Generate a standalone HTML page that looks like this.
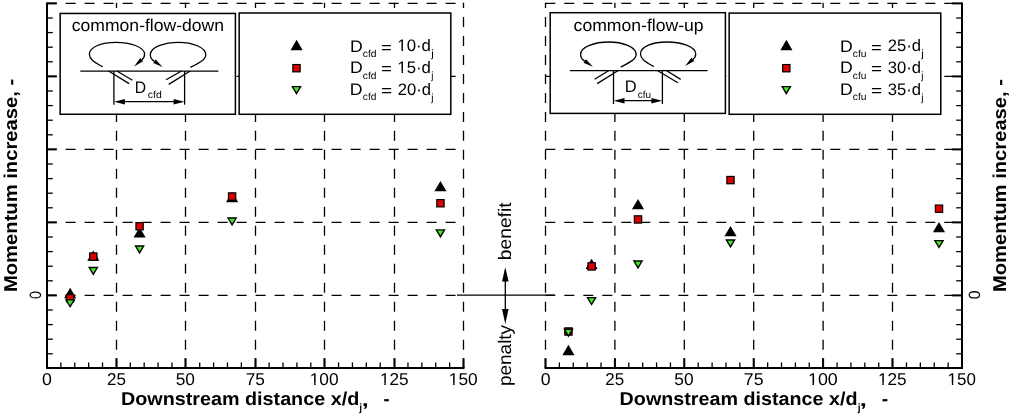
<!DOCTYPE html>
<html><head><meta charset="utf-8"><style>
html,body{margin:0;padding:0;background:#fff;}
svg{display:block;text-rendering:geometricPrecision;}
text{font-family:"Liberation Sans", sans-serif;fill:#000;}
</style></head><body>
<svg width="1011" height="414" viewBox="0 0 1011 414">
<rect width="1011" height="414" fill="#fff"/>
<path d="M46.60 295.40H463.50" stroke="#000" stroke-width="1.3" stroke-dasharray="10 9" fill="none"/>
<path d="M46.60 222.40H463.50" stroke="#000" stroke-width="1.3" stroke-dasharray="10 9" fill="none"/>
<path d="M46.60 149.40H463.50" stroke="#000" stroke-width="1.3" stroke-dasharray="10 9" fill="none"/>
<path d="M46.60 76.40H463.50" stroke="#000" stroke-width="1.3" stroke-dasharray="10 9" fill="none"/>
<path d="M46.60 3.40H463.50" stroke="#000" stroke-width="1.3" stroke-dasharray="10 9" fill="none"/>
<path d="M116.50 2.80V368.00" stroke="#000" stroke-width="1.3" stroke-dasharray="10.0 8.98" stroke-dashoffset="4.80" fill="none"/>
<path d="M185.50 2.80V368.00" stroke="#000" stroke-width="1.3" stroke-dasharray="10.0 8.98" stroke-dashoffset="4.80" fill="none"/>
<path d="M255.50 2.80V368.00" stroke="#000" stroke-width="1.3" stroke-dasharray="10.0 8.98" stroke-dashoffset="4.80" fill="none"/>
<path d="M324.50 2.80V368.00" stroke="#000" stroke-width="1.3" stroke-dasharray="10.0 8.98" stroke-dashoffset="4.80" fill="none"/>
<path d="M394.50 2.80V368.00" stroke="#000" stroke-width="1.3" stroke-dasharray="10.0 8.98" stroke-dashoffset="4.80" fill="none"/>
<path d="M463.50 2.80V368.00" stroke="#000" stroke-width="1.3" stroke-dasharray="10.0 8.98" stroke-dashoffset="4.80" fill="none"/>
<line x1="47.00" y1="2.40" x2="47.00" y2="369.00" stroke="#000" stroke-width="2.0"/>
<line x1="46.00" y1="368.00" x2="464.50" y2="368.00" stroke="#000" stroke-width="2.0"/>
<line x1="47.00" y1="368.00" x2="47.00" y2="358.20" stroke="#000" stroke-width="2.0"/>
<line x1="60.88" y1="368.00" x2="60.88" y2="362.40" stroke="#000" stroke-width="1.3"/>
<line x1="74.77" y1="368.00" x2="74.77" y2="362.40" stroke="#000" stroke-width="1.3"/>
<line x1="88.65" y1="368.00" x2="88.65" y2="362.40" stroke="#000" stroke-width="1.3"/>
<line x1="102.53" y1="368.00" x2="102.53" y2="362.40" stroke="#000" stroke-width="1.3"/>
<line x1="116.50" y1="368.00" x2="116.50" y2="358.20" stroke="#000" stroke-width="2.0"/>
<line x1="130.30" y1="368.00" x2="130.30" y2="362.40" stroke="#000" stroke-width="1.3"/>
<line x1="144.18" y1="368.00" x2="144.18" y2="362.40" stroke="#000" stroke-width="1.3"/>
<line x1="158.07" y1="368.00" x2="158.07" y2="362.40" stroke="#000" stroke-width="1.3"/>
<line x1="171.95" y1="368.00" x2="171.95" y2="362.40" stroke="#000" stroke-width="1.3"/>
<line x1="185.50" y1="368.00" x2="185.50" y2="358.20" stroke="#000" stroke-width="2.0"/>
<line x1="199.72" y1="368.00" x2="199.72" y2="362.40" stroke="#000" stroke-width="1.3"/>
<line x1="213.60" y1="368.00" x2="213.60" y2="362.40" stroke="#000" stroke-width="1.3"/>
<line x1="227.48" y1="368.00" x2="227.48" y2="362.40" stroke="#000" stroke-width="1.3"/>
<line x1="241.37" y1="368.00" x2="241.37" y2="362.40" stroke="#000" stroke-width="1.3"/>
<line x1="255.50" y1="368.00" x2="255.50" y2="358.20" stroke="#000" stroke-width="2.0"/>
<line x1="269.13" y1="368.00" x2="269.13" y2="362.40" stroke="#000" stroke-width="1.3"/>
<line x1="283.02" y1="368.00" x2="283.02" y2="362.40" stroke="#000" stroke-width="1.3"/>
<line x1="296.90" y1="368.00" x2="296.90" y2="362.40" stroke="#000" stroke-width="1.3"/>
<line x1="310.78" y1="368.00" x2="310.78" y2="362.40" stroke="#000" stroke-width="1.3"/>
<line x1="324.50" y1="368.00" x2="324.50" y2="358.20" stroke="#000" stroke-width="2.0"/>
<line x1="338.55" y1="368.00" x2="338.55" y2="362.40" stroke="#000" stroke-width="1.3"/>
<line x1="352.43" y1="368.00" x2="352.43" y2="362.40" stroke="#000" stroke-width="1.3"/>
<line x1="366.32" y1="368.00" x2="366.32" y2="362.40" stroke="#000" stroke-width="1.3"/>
<line x1="380.20" y1="368.00" x2="380.20" y2="362.40" stroke="#000" stroke-width="1.3"/>
<line x1="394.50" y1="368.00" x2="394.50" y2="358.20" stroke="#000" stroke-width="2.0"/>
<line x1="407.97" y1="368.00" x2="407.97" y2="362.40" stroke="#000" stroke-width="1.3"/>
<line x1="421.85" y1="368.00" x2="421.85" y2="362.40" stroke="#000" stroke-width="1.3"/>
<line x1="435.73" y1="368.00" x2="435.73" y2="362.40" stroke="#000" stroke-width="1.3"/>
<line x1="449.62" y1="368.00" x2="449.62" y2="362.40" stroke="#000" stroke-width="1.3"/>
<line x1="463.50" y1="368.00" x2="463.50" y2="358.20" stroke="#000" stroke-width="2.0"/>
<line x1="47.00" y1="353.80" x2="52.80" y2="353.80" stroke="#000" stroke-width="1.3"/>
<line x1="47.00" y1="339.20" x2="52.80" y2="339.20" stroke="#000" stroke-width="1.3"/>
<line x1="47.00" y1="324.60" x2="52.80" y2="324.60" stroke="#000" stroke-width="1.3"/>
<line x1="47.00" y1="310.00" x2="52.80" y2="310.00" stroke="#000" stroke-width="1.3"/>
<line x1="47.00" y1="295.40" x2="56.80" y2="295.40" stroke="#000" stroke-width="2.0"/>
<line x1="47.00" y1="280.80" x2="52.80" y2="280.80" stroke="#000" stroke-width="1.3"/>
<line x1="47.00" y1="266.20" x2="52.80" y2="266.20" stroke="#000" stroke-width="1.3"/>
<line x1="47.00" y1="251.60" x2="52.80" y2="251.60" stroke="#000" stroke-width="1.3"/>
<line x1="47.00" y1="237.00" x2="52.80" y2="237.00" stroke="#000" stroke-width="1.3"/>
<line x1="47.00" y1="222.40" x2="56.80" y2="222.40" stroke="#000" stroke-width="2.0"/>
<line x1="47.00" y1="207.80" x2="52.80" y2="207.80" stroke="#000" stroke-width="1.3"/>
<line x1="47.00" y1="193.20" x2="52.80" y2="193.20" stroke="#000" stroke-width="1.3"/>
<line x1="47.00" y1="178.60" x2="52.80" y2="178.60" stroke="#000" stroke-width="1.3"/>
<line x1="47.00" y1="164.00" x2="52.80" y2="164.00" stroke="#000" stroke-width="1.3"/>
<line x1="47.00" y1="149.40" x2="56.80" y2="149.40" stroke="#000" stroke-width="2.0"/>
<line x1="47.00" y1="134.80" x2="52.80" y2="134.80" stroke="#000" stroke-width="1.3"/>
<line x1="47.00" y1="120.20" x2="52.80" y2="120.20" stroke="#000" stroke-width="1.3"/>
<line x1="47.00" y1="105.60" x2="52.80" y2="105.60" stroke="#000" stroke-width="1.3"/>
<line x1="47.00" y1="91.00" x2="52.80" y2="91.00" stroke="#000" stroke-width="1.3"/>
<line x1="47.00" y1="76.40" x2="56.80" y2="76.40" stroke="#000" stroke-width="2.0"/>
<line x1="47.00" y1="61.80" x2="52.80" y2="61.80" stroke="#000" stroke-width="1.3"/>
<line x1="47.00" y1="47.20" x2="52.80" y2="47.20" stroke="#000" stroke-width="1.3"/>
<line x1="47.00" y1="32.60" x2="52.80" y2="32.60" stroke="#000" stroke-width="1.3"/>
<line x1="47.00" y1="18.00" x2="52.80" y2="18.00" stroke="#000" stroke-width="1.3"/>
<line x1="47.00" y1="3.40" x2="56.80" y2="3.40" stroke="#000" stroke-width="2.0"/>
<path d="M545.30 295.40H962.00" stroke="#000" stroke-width="1.3" stroke-dasharray="10 9" fill="none"/>
<path d="M545.30 222.40H962.00" stroke="#000" stroke-width="1.3" stroke-dasharray="10 9" fill="none"/>
<path d="M545.30 149.40H962.00" stroke="#000" stroke-width="1.3" stroke-dasharray="10 9" fill="none"/>
<path d="M545.30 76.40H962.00" stroke="#000" stroke-width="1.3" stroke-dasharray="10 9" fill="none"/>
<path d="M545.30 3.40H962.00" stroke="#000" stroke-width="1.3" stroke-dasharray="10 9" fill="none"/>
<path d="M545.50 2.80V368.00" stroke="#000" stroke-width="1.3" stroke-dasharray="10.0 8.98" stroke-dashoffset="4.80" fill="none"/>
<path d="M614.90 2.80V368.00" stroke="#000" stroke-width="1.3" stroke-dasharray="10.0 8.98" stroke-dashoffset="4.80" fill="none"/>
<path d="M684.30 2.80V368.00" stroke="#000" stroke-width="1.3" stroke-dasharray="10.0 8.98" stroke-dashoffset="4.80" fill="none"/>
<path d="M753.70 2.80V368.00" stroke="#000" stroke-width="1.3" stroke-dasharray="10.0 8.98" stroke-dashoffset="4.80" fill="none"/>
<path d="M823.10 2.80V368.00" stroke="#000" stroke-width="1.3" stroke-dasharray="10.0 8.98" stroke-dashoffset="4.80" fill="none"/>
<path d="M892.50 2.80V368.00" stroke="#000" stroke-width="1.3" stroke-dasharray="10.0 8.98" stroke-dashoffset="4.80" fill="none"/>
<line x1="962.00" y1="2.40" x2="962.00" y2="369.00" stroke="#000" stroke-width="2.0"/>
<line x1="544.50" y1="368.00" x2="963.00" y2="368.00" stroke="#000" stroke-width="2.0"/>
<line x1="545.50" y1="368.00" x2="545.50" y2="358.20" stroke="#000" stroke-width="2.0"/>
<line x1="559.38" y1="368.00" x2="559.38" y2="362.40" stroke="#000" stroke-width="1.3"/>
<line x1="573.27" y1="368.00" x2="573.27" y2="362.40" stroke="#000" stroke-width="1.3"/>
<line x1="587.15" y1="368.00" x2="587.15" y2="362.40" stroke="#000" stroke-width="1.3"/>
<line x1="601.03" y1="368.00" x2="601.03" y2="362.40" stroke="#000" stroke-width="1.3"/>
<line x1="614.90" y1="368.00" x2="614.90" y2="358.20" stroke="#000" stroke-width="2.0"/>
<line x1="628.80" y1="368.00" x2="628.80" y2="362.40" stroke="#000" stroke-width="1.3"/>
<line x1="642.68" y1="368.00" x2="642.68" y2="362.40" stroke="#000" stroke-width="1.3"/>
<line x1="656.57" y1="368.00" x2="656.57" y2="362.40" stroke="#000" stroke-width="1.3"/>
<line x1="670.45" y1="368.00" x2="670.45" y2="362.40" stroke="#000" stroke-width="1.3"/>
<line x1="684.30" y1="368.00" x2="684.30" y2="358.20" stroke="#000" stroke-width="2.0"/>
<line x1="698.22" y1="368.00" x2="698.22" y2="362.40" stroke="#000" stroke-width="1.3"/>
<line x1="712.10" y1="368.00" x2="712.10" y2="362.40" stroke="#000" stroke-width="1.3"/>
<line x1="725.98" y1="368.00" x2="725.98" y2="362.40" stroke="#000" stroke-width="1.3"/>
<line x1="739.87" y1="368.00" x2="739.87" y2="362.40" stroke="#000" stroke-width="1.3"/>
<line x1="753.70" y1="368.00" x2="753.70" y2="358.20" stroke="#000" stroke-width="2.0"/>
<line x1="767.63" y1="368.00" x2="767.63" y2="362.40" stroke="#000" stroke-width="1.3"/>
<line x1="781.52" y1="368.00" x2="781.52" y2="362.40" stroke="#000" stroke-width="1.3"/>
<line x1="795.40" y1="368.00" x2="795.40" y2="362.40" stroke="#000" stroke-width="1.3"/>
<line x1="809.28" y1="368.00" x2="809.28" y2="362.40" stroke="#000" stroke-width="1.3"/>
<line x1="823.10" y1="368.00" x2="823.10" y2="358.20" stroke="#000" stroke-width="2.0"/>
<line x1="837.05" y1="368.00" x2="837.05" y2="362.40" stroke="#000" stroke-width="1.3"/>
<line x1="850.93" y1="368.00" x2="850.93" y2="362.40" stroke="#000" stroke-width="1.3"/>
<line x1="864.82" y1="368.00" x2="864.82" y2="362.40" stroke="#000" stroke-width="1.3"/>
<line x1="878.70" y1="368.00" x2="878.70" y2="362.40" stroke="#000" stroke-width="1.3"/>
<line x1="892.50" y1="368.00" x2="892.50" y2="358.20" stroke="#000" stroke-width="2.0"/>
<line x1="906.47" y1="368.00" x2="906.47" y2="362.40" stroke="#000" stroke-width="1.3"/>
<line x1="920.35" y1="368.00" x2="920.35" y2="362.40" stroke="#000" stroke-width="1.3"/>
<line x1="934.23" y1="368.00" x2="934.23" y2="362.40" stroke="#000" stroke-width="1.3"/>
<line x1="948.12" y1="368.00" x2="948.12" y2="362.40" stroke="#000" stroke-width="1.3"/>
<line x1="962.00" y1="368.00" x2="962.00" y2="358.20" stroke="#000" stroke-width="2.0"/>
<line x1="962.00" y1="353.80" x2="956.20" y2="353.80" stroke="#000" stroke-width="1.3"/>
<line x1="962.00" y1="339.20" x2="956.20" y2="339.20" stroke="#000" stroke-width="1.3"/>
<line x1="962.00" y1="324.60" x2="956.20" y2="324.60" stroke="#000" stroke-width="1.3"/>
<line x1="962.00" y1="310.00" x2="956.20" y2="310.00" stroke="#000" stroke-width="1.3"/>
<line x1="962.00" y1="295.40" x2="952.20" y2="295.40" stroke="#000" stroke-width="2.0"/>
<line x1="962.00" y1="280.80" x2="956.20" y2="280.80" stroke="#000" stroke-width="1.3"/>
<line x1="962.00" y1="266.20" x2="956.20" y2="266.20" stroke="#000" stroke-width="1.3"/>
<line x1="962.00" y1="251.60" x2="956.20" y2="251.60" stroke="#000" stroke-width="1.3"/>
<line x1="962.00" y1="237.00" x2="956.20" y2="237.00" stroke="#000" stroke-width="1.3"/>
<line x1="962.00" y1="222.40" x2="952.20" y2="222.40" stroke="#000" stroke-width="2.0"/>
<line x1="962.00" y1="207.80" x2="956.20" y2="207.80" stroke="#000" stroke-width="1.3"/>
<line x1="962.00" y1="193.20" x2="956.20" y2="193.20" stroke="#000" stroke-width="1.3"/>
<line x1="962.00" y1="178.60" x2="956.20" y2="178.60" stroke="#000" stroke-width="1.3"/>
<line x1="962.00" y1="164.00" x2="956.20" y2="164.00" stroke="#000" stroke-width="1.3"/>
<line x1="962.00" y1="149.40" x2="952.20" y2="149.40" stroke="#000" stroke-width="2.0"/>
<line x1="962.00" y1="134.80" x2="956.20" y2="134.80" stroke="#000" stroke-width="1.3"/>
<line x1="962.00" y1="120.20" x2="956.20" y2="120.20" stroke="#000" stroke-width="1.3"/>
<line x1="962.00" y1="105.60" x2="956.20" y2="105.60" stroke="#000" stroke-width="1.3"/>
<line x1="962.00" y1="91.00" x2="956.20" y2="91.00" stroke="#000" stroke-width="1.3"/>
<line x1="962.00" y1="76.40" x2="952.20" y2="76.40" stroke="#000" stroke-width="2.0"/>
<line x1="962.00" y1="61.80" x2="956.20" y2="61.80" stroke="#000" stroke-width="1.3"/>
<line x1="962.00" y1="47.20" x2="956.20" y2="47.20" stroke="#000" stroke-width="1.3"/>
<line x1="962.00" y1="32.60" x2="956.20" y2="32.60" stroke="#000" stroke-width="1.3"/>
<line x1="962.00" y1="18.00" x2="956.20" y2="18.00" stroke="#000" stroke-width="1.3"/>
<line x1="962.00" y1="3.40" x2="952.20" y2="3.40" stroke="#000" stroke-width="2.0"/>
<rect x="60.15" y="13.45" width="175.25" height="100.80" fill="#fff" stroke="#000" stroke-width="1.5"/>
<rect x="239.15" y="13.00" width="211.65" height="101.30" fill="#fff" stroke="#000" stroke-width="1.5"/>
<rect x="550.20" y="12.70" width="175.20" height="100.70" fill="#fff" stroke="#000" stroke-width="1.5"/>
<rect x="729.15" y="13.10" width="211.65" height="101.20" fill="#fff" stroke="#000" stroke-width="1.5"/>
<polygon points="296.60,39.85 302.65,50.15 290.55,50.15" fill="#000"/>
<rect x="292.85" y="64.55" width="7.30" height="7.30" fill="#dd0000" stroke="#000" stroke-width="1.2"/>
<polygon points="291.20,86.00 301.80,86.00 296.50,94.90" fill="#000"/>
<polygon points="293.58,87.35 299.42,87.35 296.50,92.26" fill="#44e826"/>
<polygon points="786.40,39.85 792.45,50.15 780.35,50.15" fill="#000"/>
<rect x="782.65" y="64.55" width="7.30" height="7.30" fill="#dd0000" stroke="#000" stroke-width="1.2"/>
<polygon points="781.00,86.00 791.60,86.00 786.30,94.90" fill="#000"/>
<polygon points="783.38,87.35 789.22,87.35 786.30,92.26" fill="#44e826"/>
<polygon points="70.15,287.85 76.20,298.15 64.10,298.15" fill="#000"/>
<rect x="66.50" y="294.55" width="7.30" height="7.30" fill="#dd0000" stroke="#000" stroke-width="1.2"/>
<polygon points="64.85,299.20 75.45,299.20 70.15,308.10" fill="#000"/>
<polygon points="67.23,300.55 73.07,300.55 70.15,305.46" fill="#44e826"/>
<polygon points="93.30,250.45 99.35,260.75 87.25,260.75" fill="#000"/>
<rect x="89.65" y="252.95" width="7.30" height="7.30" fill="#dd0000" stroke="#000" stroke-width="1.2"/>
<polygon points="88.00,266.85 98.60,266.85 93.30,275.75" fill="#000"/>
<polygon points="90.38,268.20 96.22,268.20 93.30,273.11" fill="#44e826"/>
<polygon points="139.60,227.30 145.65,237.60 133.55,237.60" fill="#000"/>
<rect x="135.95" y="222.60" width="7.30" height="7.30" fill="#dd0000" stroke="#000" stroke-width="1.2"/>
<polygon points="134.30,245.30 144.90,245.30 139.60,254.20" fill="#000"/>
<polygon points="136.68,246.65 142.52,246.65 139.60,251.56" fill="#44e826"/>
<polygon points="232.10,191.85 238.15,202.15 226.05,202.15" fill="#000"/>
<rect x="228.45" y="192.85" width="7.30" height="7.30" fill="#dd0000" stroke="#000" stroke-width="1.2"/>
<polygon points="226.80,217.30 237.40,217.30 232.10,226.20" fill="#000"/>
<polygon points="229.18,218.65 235.02,218.65 232.10,223.56" fill="#44e826"/>
<polygon points="440.45,180.90 446.50,191.20 434.40,191.20" fill="#000"/>
<rect x="436.80" y="199.60" width="7.30" height="7.30" fill="#dd0000" stroke="#000" stroke-width="1.2"/>
<polygon points="435.15,229.25 445.75,229.25 440.45,238.15" fill="#000"/>
<polygon points="437.53,230.60 443.37,230.60 440.45,235.51" fill="#44e826"/>
<polygon points="568.45,344.85 574.50,355.15 562.40,355.15" fill="#000"/>
<rect x="564.80" y="327.85" width="7.30" height="7.30" fill="#dd0000" stroke="#000" stroke-width="1.2"/>
<polygon points="563.15,328.55 573.75,328.55 568.45,337.45" fill="#000"/>
<polygon points="565.53,329.90 571.37,329.90 568.45,334.81" fill="#44e826"/>
<polygon points="591.60,258.70 597.65,269.00 585.55,269.00" fill="#000"/>
<rect x="587.95" y="262.75" width="7.30" height="7.30" fill="#dd0000" stroke="#000" stroke-width="1.2"/>
<polygon points="586.30,296.95 596.90,296.95 591.60,305.85" fill="#000"/>
<polygon points="588.68,298.30 594.52,298.30 591.60,303.21" fill="#44e826"/>
<polygon points="638.00,199.05 644.05,209.35 631.95,209.35" fill="#000"/>
<rect x="634.35" y="215.80" width="7.30" height="7.30" fill="#dd0000" stroke="#000" stroke-width="1.2"/>
<polygon points="632.70,260.35 643.30,260.35 638.00,269.25" fill="#000"/>
<polygon points="635.08,261.70 640.92,261.70 638.00,266.61" fill="#44e826"/>
<polygon points="730.50,226.00 736.55,236.30 724.45,236.30" fill="#000"/>
<rect x="726.85" y="176.45" width="7.30" height="7.30" fill="#dd0000" stroke="#000" stroke-width="1.2"/>
<polygon points="725.20,239.30 735.80,239.30 730.50,248.20" fill="#000"/>
<polygon points="727.58,240.65 733.42,240.65 730.50,245.56" fill="#44e826"/>
<polygon points="939.00,221.90 945.05,232.20 932.95,232.20" fill="#000"/>
<rect x="935.35" y="205.05" width="7.30" height="7.30" fill="#dd0000" stroke="#000" stroke-width="1.2"/>
<polygon points="933.70,239.90 944.30,239.90 939.00,248.80" fill="#000"/>
<polygon points="936.08,241.25 941.92,241.25 939.00,246.16" fill="#44e826"/>
<path d="M102.70,66.90 C95.80,62.80 89.40,59.80 89.40,54.30 C89.40,46.80 101.80,42.30 115.80,42.30 C129.80,42.30 144.60,46.80 144.60,54.30 C144.60,57.10 143.40,58.60 141.70,59.90" fill="none" stroke="#000" stroke-width="1.3"/>
<polygon points="134.10,66.40 140.30,58.00 143.10,61.20" fill="#000"/>
<path d="M190.40,67.30 C198.40,63.30 205.80,59.80 205.80,54.70 C205.80,47.30 192.40,42.30 178.40,42.30 C164.40,42.30 150.30,47.30 150.30,54.70 C150.30,57.80 152.10,59.90 154.40,61.40" fill="none" stroke="#000" stroke-width="1.3"/>
<polygon points="162.60,67.00 153.20,63.00 155.70,59.60" fill="#000"/>
<line x1="80.30" y1="71.05" x2="218.40" y2="71.05" stroke="#000" stroke-width="1.25"/>
<line x1="113.90" y1="71.05" x2="113.90" y2="104.70" stroke="#000" stroke-width="1.3"/>
<line x1="184.60" y1="71.05" x2="184.60" y2="104.70" stroke="#000" stroke-width="1.3"/>
<line x1="116.90" y1="101.70" x2="181.60" y2="101.70" stroke="#000" stroke-width="1.3"/>
<polygon points="114.20,101.70 124.90,99.00 124.90,104.40" fill="#000"/>
<polygon points="184.30,101.70 173.60,99.00 173.60,104.40" fill="#000"/>
<line x1="108.60" y1="71.05" x2="129.10" y2="83.60" stroke="#000" stroke-width="1.3"/>
<line x1="116.90" y1="71.05" x2="132.40" y2="80.30" stroke="#000" stroke-width="1.3"/>
<line x1="181.50" y1="71.05" x2="166.10" y2="79.80" stroke="#000" stroke-width="1.3"/>
<line x1="190.20" y1="71.05" x2="168.70" y2="84.40" stroke="#000" stroke-width="1.3"/>
<path d="M620.70,67.00 C628.70,63.00 636.10,59.50 636.10,54.40 C636.10,47.00 622.70,42.00 608.70,42.00 C594.70,42.00 580.60,47.00 580.60,54.40 C580.60,57.50 582.40,59.60 584.70,61.10" fill="none" stroke="#000" stroke-width="1.3"/>
<polygon points="592.90,66.70 583.50,62.70 586.00,59.30" fill="#000"/>
<path d="M653.80,66.60 C646.90,62.50 640.50,59.50 640.50,54.00 C640.50,46.50 652.90,42.00 666.90,42.00 C680.90,42.00 695.70,46.50 695.70,54.00 C695.70,56.80 694.50,58.30 692.80,59.60" fill="none" stroke="#000" stroke-width="1.3"/>
<polygon points="685.20,66.10 691.40,57.70 694.20,60.90" fill="#000"/>
<line x1="569.90" y1="70.50" x2="707.60" y2="70.50" stroke="#000" stroke-width="1.25"/>
<line x1="613.50" y1="70.50" x2="613.50" y2="104.10" stroke="#000" stroke-width="1.3"/>
<line x1="662.40" y1="70.50" x2="662.40" y2="104.10" stroke="#000" stroke-width="1.3"/>
<line x1="616.50" y1="100.70" x2="659.40" y2="100.70" stroke="#000" stroke-width="1.3"/>
<polygon points="613.80,100.70 624.50,98.00 624.50,103.40" fill="#000"/>
<polygon points="662.10,100.70 651.40,98.00 651.40,103.40" fill="#000"/>
<line x1="608.90" y1="70.50" x2="594.60" y2="79.20" stroke="#000" stroke-width="1.3"/>
<line x1="618.20" y1="70.50" x2="597.20" y2="83.60" stroke="#000" stroke-width="1.3"/>
<line x1="666.30" y1="70.50" x2="680.70" y2="79.40" stroke="#000" stroke-width="1.3"/>
<line x1="657.30" y1="70.50" x2="677.90" y2="82.70" stroke="#000" stroke-width="1.3"/>
<line x1="457.00" y1="295.20" x2="554.70" y2="295.20" stroke="#000" stroke-width="1.3"/>
<line x1="505.30" y1="270.00" x2="505.30" y2="320.00" stroke="#000" stroke-width="1.3"/>
<polygon points="505.3,267.2 502.0,281.6 508.6,281.6" fill="#000"/>
<polygon points="505.3,324.0 502.0,309.0 508.6,309.0" fill="#000"/>
<g style="will-change:transform">
<text transform="translate(349.89 51.79) rotate(0.01)" font-size="16.80" textLength="12.76" lengthAdjust="spacingAndGlyphs">D</text>
<text transform="translate(362.73 57.09) rotate(0.01)" font-size="10.20" textLength="13.77" lengthAdjust="spacingAndGlyphs">cfd</text>
<text transform="translate(381.04 52.62) rotate(0.01)" font-size="16.40" textLength="10.78" lengthAdjust="spacingAndGlyphs">=</text>
<text transform="translate(397.33 51.22) rotate(0.01)" font-size="16.60" textLength="33.63" lengthAdjust="spacingAndGlyphs">10·d</text>
<text transform="translate(431.20 57.33) rotate(0.01)" font-size="10.60" textLength="2.58" lengthAdjust="spacingAndGlyphs">j</text>
<text transform="translate(349.89 73.33) rotate(0.01)" font-size="16.80" textLength="12.75" lengthAdjust="spacingAndGlyphs">D</text>
<text transform="translate(362.80 78.64) rotate(0.01)" font-size="10.20" textLength="13.61" lengthAdjust="spacingAndGlyphs">cfd</text>
<text transform="translate(381.03 74.18) rotate(0.01)" font-size="16.40" textLength="10.95" lengthAdjust="spacingAndGlyphs">=</text>
<text transform="translate(397.35 72.90) rotate(0.01)" font-size="16.60" textLength="33.62" lengthAdjust="spacingAndGlyphs">15·d</text>
<text transform="translate(431.32 78.90) rotate(0.01)" font-size="10.60" textLength="2.16" lengthAdjust="spacingAndGlyphs">j</text>
<text transform="translate(349.87 95.10) rotate(0.01)" font-size="16.80" textLength="12.78" lengthAdjust="spacingAndGlyphs">D</text>
<text transform="translate(362.83 100.20) rotate(0.01)" font-size="10.20" textLength="13.54" lengthAdjust="spacingAndGlyphs">cfd</text>
<text transform="translate(381.12 95.88) rotate(0.01)" font-size="16.40" textLength="11.11" lengthAdjust="spacingAndGlyphs">=</text>
<text transform="translate(397.76 94.69) rotate(0.01)" font-size="16.60" textLength="33.31" lengthAdjust="spacingAndGlyphs">20·d</text>
<text transform="translate(431.29 100.63) rotate(0.01)" font-size="10.60" textLength="2.26" lengthAdjust="spacingAndGlyphs">j</text>
<text transform="translate(839.89 51.79) rotate(0.01)" font-size="16.80" textLength="12.76" lengthAdjust="spacingAndGlyphs">D</text>
<text transform="translate(852.72 57.09) rotate(0.01)" font-size="10.20" textLength="13.80" lengthAdjust="spacingAndGlyphs">cfu</text>
<text transform="translate(871.04 52.62) rotate(0.01)" font-size="16.40" textLength="10.78" lengthAdjust="spacingAndGlyphs">=</text>
<text transform="translate(887.82 51.21) rotate(0.01)" font-size="16.60" textLength="33.26" lengthAdjust="spacingAndGlyphs">25·d</text>
<text transform="translate(921.20 57.33) rotate(0.01)" font-size="10.60" textLength="2.58" lengthAdjust="spacingAndGlyphs">j</text>
<text transform="translate(839.89 73.33) rotate(0.01)" font-size="16.80" textLength="12.75" lengthAdjust="spacingAndGlyphs">D</text>
<text transform="translate(852.87 78.59) rotate(0.01)" font-size="10.20" textLength="13.53" lengthAdjust="spacingAndGlyphs">cfu</text>
<text transform="translate(871.03 74.18) rotate(0.01)" font-size="16.40" textLength="10.95" lengthAdjust="spacingAndGlyphs">=</text>
<text transform="translate(887.85 72.84) rotate(0.01)" font-size="16.60" textLength="33.20" lengthAdjust="spacingAndGlyphs">30·d</text>
<text transform="translate(921.32 78.90) rotate(0.01)" font-size="10.60" textLength="2.18" lengthAdjust="spacingAndGlyphs">j</text>
<text transform="translate(839.88 95.10) rotate(0.01)" font-size="16.80" textLength="12.77" lengthAdjust="spacingAndGlyphs">D</text>
<text transform="translate(852.73 100.20) rotate(0.01)" font-size="10.20" textLength="13.77" lengthAdjust="spacingAndGlyphs">cfu</text>
<text transform="translate(871.12 95.88) rotate(0.01)" font-size="16.40" textLength="11.11" lengthAdjust="spacingAndGlyphs">=</text>
<text transform="translate(887.79 94.62) rotate(0.01)" font-size="16.60" textLength="33.25" lengthAdjust="spacingAndGlyphs">35·d</text>
<text transform="translate(921.29 100.63) rotate(0.01)" font-size="10.60" textLength="2.26" lengthAdjust="spacingAndGlyphs">j</text>
<text transform="translate(134.85 93.01) rotate(0.01)" font-size="16.80" textLength="11.35" lengthAdjust="spacingAndGlyphs">D</text>
<text transform="translate(147.81 98.36) rotate(0.01)" font-size="10.20" textLength="13.87" lengthAdjust="spacingAndGlyphs">cfd</text>
<text transform="translate(624.77 92.14) rotate(0.01)" font-size="16.80" textLength="11.92" lengthAdjust="spacingAndGlyphs">D</text>
<text transform="translate(637.79 98.26) rotate(0.01)" font-size="10.20" textLength="13.30" lengthAdjust="spacingAndGlyphs">cfu</text>
<text transform="translate(71.79 31.16) rotate(0.01)" font-size="17.20" textLength="152.29" lengthAdjust="spacingAndGlyphs">common-flow-down</text>
<text transform="translate(573.61 31.11) rotate(0.01)" font-size="17.20" textLength="130.04" lengthAdjust="spacingAndGlyphs">common-flow-up</text>
<text transform="translate(120.94 404.79) rotate(0.01)" font-size="18.60" font-weight="bold" textLength="238.28" lengthAdjust="spacingAndGlyphs">Downstream distance x/d</text>
<text transform="translate(359.13 410.76) rotate(0.01)" font-size="10.60" font-weight="bold" textLength="2.81" lengthAdjust="spacingAndGlyphs">j</text>
<text transform="translate(361.66 405.71) rotate(0.01)" font-size="18.50" font-weight="bold" textLength="6.94" lengthAdjust="spacingAndGlyphs">,</text>
<text transform="translate(383.55 404.79) rotate(0.01)" font-size="18.50" font-weight="bold" textLength="6.05" lengthAdjust="spacingAndGlyphs">-</text>
<text transform="translate(619.59 404.79) rotate(0.01)" font-size="18.60" font-weight="bold" textLength="237.89" lengthAdjust="spacingAndGlyphs">Downstream distance x/d</text>
<text transform="translate(857.81 410.76) rotate(0.01)" font-size="10.60" font-weight="bold" textLength="2.83" lengthAdjust="spacingAndGlyphs">j</text>
<text transform="translate(859.77 405.71) rotate(0.01)" font-size="18.50" font-weight="bold" textLength="7.05" lengthAdjust="spacingAndGlyphs">,</text>
<text transform="translate(881.68 404.79) rotate(0.01)" font-size="18.50" font-weight="bold" textLength="6.43" lengthAdjust="spacingAndGlyphs">-</text>
<text transform="translate(17.04 292.03) rotate(-89.99)" font-size="18.60" font-weight="bold" textLength="213.19" lengthAdjust="spacingAndGlyphs">Momentum increase, -</text>
<text transform="translate(1005.67 292.03) rotate(-89.99)" font-size="18.60" font-weight="bold" textLength="213.02" lengthAdjust="spacingAndGlyphs">Momentum increase, -</text>
<text transform="translate(41.02 299.08) rotate(-89.99)" font-size="16.40" textLength="7.98" lengthAdjust="spacingAndGlyphs">0</text>
<text transform="translate(979.55 299.34) rotate(-89.99)" font-size="16.40" textLength="8.94" lengthAdjust="spacingAndGlyphs">0</text>
<text transform="translate(511.40 260.22) rotate(-89.99)" font-size="18.20" textLength="57.76" lengthAdjust="spacingAndGlyphs">benefit</text>
<text transform="translate(511.05 386.01) rotate(-89.99)" font-size="18.20" textLength="61.10" lengthAdjust="spacingAndGlyphs">penalty</text>
<text transform="translate(42.11 385.06) rotate(0.01)" font-size="17.20" textLength="9.89" lengthAdjust="spacingAndGlyphs">0</text>
<text transform="translate(106.97 385.10) rotate(0.01)" font-size="17.20" textLength="18.92" lengthAdjust="spacingAndGlyphs">25</text>
<text transform="translate(175.74 385.09) rotate(0.01)" font-size="17.20" textLength="19.24" lengthAdjust="spacingAndGlyphs">50</text>
<text transform="translate(245.71 385.09) rotate(0.01)" font-size="17.20" textLength="19.25" lengthAdjust="spacingAndGlyphs">75</text>
<text transform="translate(309.74 385.08) rotate(0.01)" font-size="17.20" textLength="28.88" lengthAdjust="spacingAndGlyphs">100</text>
<text transform="translate(379.92 385.07) rotate(0.01)" font-size="17.20" textLength="28.72" lengthAdjust="spacingAndGlyphs">125</text>
<text transform="translate(448.77 385.07) rotate(0.01)" font-size="17.20" textLength="28.93" lengthAdjust="spacingAndGlyphs">150</text>
<text transform="translate(540.68 385.09) rotate(0.01)" font-size="17.20" textLength="9.81" lengthAdjust="spacingAndGlyphs">0</text>
<text transform="translate(605.37 385.10) rotate(0.01)" font-size="17.20" textLength="18.88" lengthAdjust="spacingAndGlyphs">25</text>
<text transform="translate(674.34 385.07) rotate(0.01)" font-size="17.20" textLength="19.28" lengthAdjust="spacingAndGlyphs">50</text>
<text transform="translate(743.85 385.06) rotate(0.01)" font-size="17.20" textLength="19.74" lengthAdjust="spacingAndGlyphs">75</text>
<text transform="translate(807.96 385.05) rotate(0.01)" font-size="17.20" textLength="29.83" lengthAdjust="spacingAndGlyphs">100</text>
<text transform="translate(877.92 385.07) rotate(0.01)" font-size="17.20" textLength="28.72" lengthAdjust="spacingAndGlyphs">125</text>
<text transform="translate(947.58 385.09) rotate(0.01)" font-size="17.20" textLength="28.30" lengthAdjust="spacingAndGlyphs">150</text>
</g>
<rect x="397.89" y="49.26" width="3.69" height="2.76" fill="#fff"/>
<rect x="403.00" y="49.26" width="3.52" height="2.76" fill="#fff"/>
<rect x="397.91" y="70.94" width="3.69" height="2.76" fill="#fff"/>
<rect x="403.01" y="70.94" width="3.52" height="2.76" fill="#fff"/>
<rect x="310.34" y="383.07" width="3.78" height="2.81" fill="#fff"/>
<rect x="315.57" y="383.07" width="3.61" height="2.81" fill="#fff"/>
<rect x="380.51" y="383.06" width="3.76" height="2.81" fill="#fff"/>
<rect x="385.73" y="383.06" width="3.59" height="2.81" fill="#fff"/>
<rect x="449.37" y="383.06" width="3.79" height="2.81" fill="#fff"/>
<rect x="454.62" y="383.06" width="3.61" height="2.81" fill="#fff"/>
<rect x="808.61" y="383.04" width="3.88" height="2.81" fill="#fff"/>
<rect x="813.99" y="383.04" width="3.70" height="2.81" fill="#fff"/>
<rect x="878.51" y="383.06" width="3.76" height="2.81" fill="#fff"/>
<rect x="883.73" y="383.06" width="3.59" height="2.81" fill="#fff"/>
<rect x="948.16" y="383.08" width="3.72" height="2.81" fill="#fff"/>
<rect x="953.30" y="383.08" width="3.55" height="2.81" fill="#fff"/>
</svg></body></html>
